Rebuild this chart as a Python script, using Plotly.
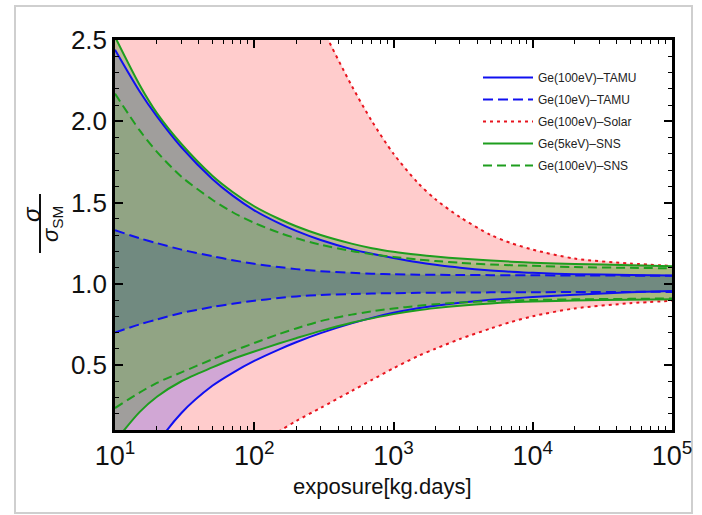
import plotly.graph_objects as go

# exposure grid [kg.days]
exposure = [10, 15, 20, 30, 50, 70, 100, 150, 200, 300, 500, 700, 1000, 1500,
            2000, 3000, 5000, 7000, 1e4, 2e4, 5e4, 1e5]

# Ge(100eV)-TAMU (blue solid)
tamu100_up = [2.44, 2.185, 2.03, 1.84, 1.645, 1.542, 1.452, 1.373, 1.325, 1.269, 1.213, 1.184,
              1.158, 1.132, 1.117, 1.099, 1.082, 1.074, 1.067, 1.059, 1.054, 1.051]
tamu100_lo = [-0.53, -0.18, 0.011, 0.205, 0.372, 0.452, 0.525, 0.595, 0.64, 0.696, 0.756, 0.79,
              0.821, 0.849, 0.865, 0.883, 0.901, 0.91, 0.918, 0.933, 0.947, 0.955]
# Ge(10eV)-TAMU (blue dashed)
tamu10_up = [1.33, 1.28, 1.25, 1.21, 1.17, 1.145, 1.123, 1.103, 1.09, 1.077, 1.067, 1.062, 1.058,
             1.056, 1.055, 1.054, 1.053, 1.052, 1.052, 1.051, 1.05, 1.05]
tamu10_lo = [0.70, 0.75, 0.78, 0.82, 0.857, 0.877, 0.895, 0.912, 0.922, 0.931, 0.937, 0.94, 0.942,
             0.944, 0.945, 0.946, 0.947, 0.948, 0.948, 0.949, 0.95, 0.95]
# Ge(100eV)-Solar (red dotted)
solar_up = [9.0, 7.6, 6.8, 5.8, 4.8, 4.3, 3.78, 3.29, 2.99, 2.6, 2.22, 2.0, 1.80, 1.62,
            1.52, 1.41, 1.30, 1.25, 1.21, 1.155, 1.125, 1.11]
solar_lo = [-1.2, -0.8, -0.6, -0.4, -0.25, -0.12, -0.02, 0.09, 0.155, 0.236, 0.34, 0.408, 0.48,
            0.555, 0.60, 0.66, 0.725, 0.765, 0.80, 0.848, 0.88, 0.895]
# Ge(5keV)-SNS (green solid)
sns5k_up = [2.52, 2.225, 2.05, 1.86, 1.665, 1.565, 1.477, 1.40, 1.354, 1.30, 1.247, 1.219, 1.197,
            1.178, 1.167, 1.155, 1.143, 1.136, 1.13, 1.122, 1.114, 1.108]
sns5k_lo = [0.03, 0.21, 0.305, 0.40, 0.485, 0.537, 0.583, 0.632, 0.665, 0.71, 0.76, 0.787, 0.813,
            0.837, 0.85, 0.865, 0.879, 0.886, 0.891, 0.897, 0.902, 0.905]
# Ge(100eV)-SNS (green dashed)
sns100_up = [2.17, 1.945, 1.812, 1.659, 1.517, 1.44, 1.375, 1.315, 1.28, 1.24, 1.202, 1.182, 1.165,
             1.149, 1.14, 1.129, 1.119, 1.114, 1.11, 1.103, 1.098, 1.095]
sns100_lo = [0.235, 0.33, 0.39, 0.455, 0.535, 0.585, 0.635, 0.69, 0.725, 0.77, 0.81, 0.83, 0.848,
             0.864, 0.874, 0.884, 0.893, 0.897, 0.90, 0.904, 0.907, 0.91]

series = [
    ("Ge(100eV)–TAMU", tamu100_up, tamu100_lo, "#1010f0", "solid", "rgba(0,0,255,0.18)"),
    ("Ge(10eV)–TAMU", tamu10_up, tamu10_lo, "#1010f0", "10px,5px", "rgba(40,80,120,0.30)"),
    ("Ge(100eV)–Solar", solar_up, solar_lo, "#e8141e", "3px,4px", "rgba(255,0,0,0.20)"),
    ("Ge(5keV)–SNS", sns5k_up, sns5k_lo, "#1e9e1e", "solid", "rgba(60,140,40,0.33)"),
    ("Ge(100eV)–SNS", sns100_up, sns100_lo, "#1e9e1e", "9px,5px", "rgba(60,200,0,0.15)"),
]

fig = go.Figure()

# fills (drawn first, order: solar, tamu100, sns5k, sns100, tamu10)
fill_order = [2, 0, 3, 4, 1]
for i in fill_order:
    name, up, lo, col, dash, fcol = series[i]
    fig.add_trace(go.Scatter(
        x=exposure + exposure[::-1], y=up + lo[::-1], mode="lines",
        line=dict(width=0), fill="toself", fillcolor=fcol,
        showlegend=False, hoverinfo="skip"))

for k, (name, up, lo, col, dash, fcol) in enumerate(series):
    fig.add_trace(go.Scatter(
        x=exposure, y=up, mode="lines", name=name, legendgroup=f"g{k}",
        line=dict(color=col, width=2, dash=dash, shape="spline", smoothing=0.8)))
    fig.add_trace(go.Scatter(
        x=exposure, y=lo, mode="lines", name=name, legendgroup=f"g{k}", showlegend=False,
        line=dict(color=col, width=2, dash=dash, shape="spline", smoothing=0.8)))

L, R, T, B = 115, 30, 40, 85
W, H = 702, 515
pw, ph = W - L - R, H - T - B

def px(x):
    return (x - L) / pw

def py(y):
    return (H - B - y) / ph

fig.update_layout(
    width=W, height=H, margin=dict(l=L, r=R, t=T, b=B, autoexpand=False),
    paper_bgcolor="white", plot_bgcolor="white",
    font=dict(family="Liberation Sans, Arial, sans-serif", color="#111"),
    legend=dict(x=px(478), y=py(63), xanchor="left", yanchor="top",
                bgcolor="rgba(0,0,0,0)", font=dict(size=12, color="#222"),
                traceorder="grouped", tracegroupgap=3, itemwidth=50),
    xaxis=dict(type="log", range=[1, 5], tickvals=[10, 100, 1000, 1e4, 1e5],
               ticktext=["10<sup>1</sup>", "10<sup>2</sup>", "10<sup>3</sup>",
                         "10<sup>4</sup>", "10<sup>5</sup>"],
               ticks="inside", ticklen=8, tickwidth=1.5, tickcolor="black",
               showline=True, linecolor="black", linewidth=2.5, mirror="ticks",
               showgrid=False, zeroline=False, tickfont=dict(size=27),
               minor=dict(ticks="inside", ticklen=4, tickwidth=1, tickcolor="black",
                          tickvals=[m * 10 ** e for e in range(1, 5) for m in range(2, 10)],
                          showgrid=False)),
    yaxis=dict(range=[0.1, 2.5], tickvals=[0.5, 1.0, 1.5, 2.0, 2.5],
               ticktext=["0.5", "1.0", "1.5", "2.0", "2.5"],
               ticks="inside", ticklen=8, tickwidth=1.5, tickcolor="black",
               showline=True, linecolor="black", linewidth=2.5, mirror="ticks",
               showgrid=False, zeroline=False, tickfont=dict(size=26),
               minor=dict(ticks="inside", ticklen=4, tickwidth=1, tickcolor="black",
                          dtick=0.1, showgrid=False)),
)

fig.add_annotation(text="exposure[kg.days]", xref="paper", yref="paper",
                   x=px(382), y=py(487), xanchor="center", yanchor="middle",
                   showarrow=False, font=dict(size=22, color="#111"))
fig.add_annotation(text="<i>σ</i>", xref="paper", yref="paper", x=px(31), y=py(214),
                   xanchor="center", yanchor="middle",
                   showarrow=False, textangle=-90, font=dict(size=24, color="#111"))
fig.add_annotation(text="<i>σ</i><sub>SM</sub>", xref="paper", yref="paper", x=px(52), y=py(224),
                   xanchor="center", yanchor="middle",
                   showarrow=False, textangle=-90, font=dict(size=22, color="#111"))
fig.add_shape(type="line", xref="paper", yref="paper", x0=px(40), x1=px(40),
              y0=py(194), y1=py(253), line=dict(color="#111", width=2))
# card frame
fig.add_shape(type="rect", xref="paper", yref="paper", x0=px(15), x1=px(692),
              y0=py(513), y1=py(6), line=dict(color="#cfcfcf", width=2), layer="below")

fig.write_html("out.html", config={"displayModeBar": False},
               post_script="document.body.style.margin='0';")
